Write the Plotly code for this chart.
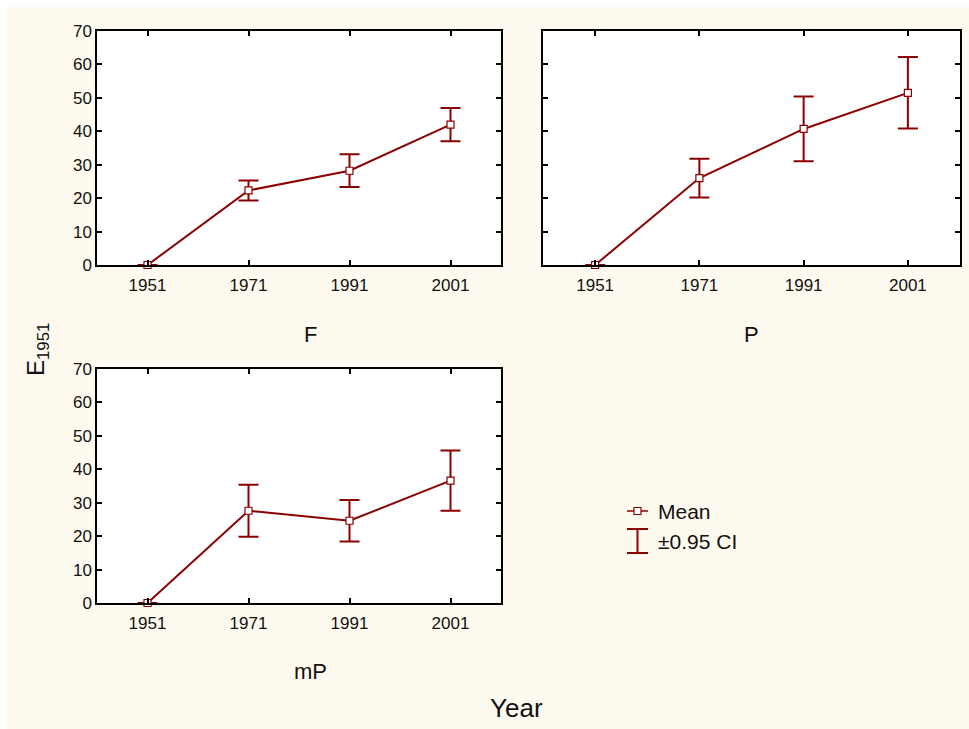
import plotly.graph_objects as go

# Mean E1951 by census year, with 0.95 confidence half-widths, for three groups
years = ["1951", "1971", "1991", "2001"]
f_mean = [0.0, 22.3, 28.2, 42.0]
f_ci = [0.0, 3.0, 4.9, 5.0]
p_mean = [0.0, 26.0, 40.7, 51.5]
p_ci = [0.0, 5.8, 9.7, 10.7]
mp_mean = [0.0, 27.6, 24.6, 36.6]
mp_ci = [0.0, 7.8, 6.2, 9.0]
y_ticks = [0, 10, 20, 30, 40, 50, 60, 70]

W, H = 969, 729
RED = "#8B0000"
BG = "#FEFAEF"
FONT = "Liberation Sans, Arial, sans-serif"


def px(x):
    return x / W


def py(y):
    return 1 - y / H


panels = [
    # (means, ci, x-axis id, y-axis id, pixel box left, right, top, bottom)
    (f_mean, f_ci, "x", "y", 97, 501, 31, 265),
    (p_mean, p_ci, "x2", "y2", 543, 960, 31, 265),
    (mp_mean, mp_ci, "x3", "y3", 97, 501, 369, 603),
]

fig = go.Figure()
layout_axes = {}
for i, (m, ci, xa, ya, l, r, t, b) in enumerate(panels):
    fig.add_trace(go.Scatter(
        x=years, y=m, xaxis=xa, yaxis=ya, mode="lines+markers",
        line=dict(color=RED, width=2),
        marker=dict(symbol="square", size=7, color="white",
                    line=dict(color=RED, width=1.2)),
        error_y=dict(type="data", array=ci, visible=True, color=RED,
                     thickness=2, width=10),
        showlegend=False, cliponaxis=False,
    ))
    suffix = "" if i == 0 else str(i + 1)
    common = dict(showline=True, linecolor="black", linewidth=1.5,
                  mirror="ticks", ticks="inside", ticklen=5, tickwidth=1.5,
                  tickcolor="black", showgrid=False, zeroline=False,
                  automargin=False,
                  tickfont=dict(family=FONT, size=17, color="#111"))
    layout_axes["xaxis" + suffix] = dict(
        common, type="category", range=[-0.5, 3.5],
        domain=[px(l), px(r)], anchor=ya, ticklabelstandoff=4)
    layout_axes["yaxis" + suffix] = dict(
        common, range=[0, 70], tickvals=y_ticks,
        domain=[py(b), py(t)], anchor=xa,
        showticklabels=(i != 1))

annotations = [
    dict(text="F", x=px(310), y=py(334), font=dict(size=22)),
    dict(text="P", x=px(751), y=py(334), font=dict(size=22)),
    dict(text="mP", x=px(310), y=py(671), font=dict(size=22)),
    dict(text="Year", x=px(516), y=py(708), font=dict(size=26)),
    dict(text="E<sub>1951</sub>", x=px(37), y=py(350), textangle=-90,
         font=dict(size=24)),
    dict(text="Mean", x=px(656), y=py(511), xanchor="left",
         font=dict(size=21)),
    dict(text="±0.95 CI", x=px(656), y=py(541), xanchor="left",
         font=dict(size=21)),
]
for a in annotations:
    a.update(xref="paper", yref="paper", showarrow=False)
    a["font"].update(family=FONT, color="#111")
    if "xanchor" not in a:
        a["xanchor"] = "center"
    a["yanchor"] = "middle"


def pline(x0, y0, x1, y1, w=2):
    return dict(type="line", xref="paper", yref="paper",
                x0=px(x0), y0=py(y0), x1=px(x1), y1=py(y1),
                line=dict(color=RED, width=w))


shapes = [
    dict(type="rect", xref="paper", yref="paper", layer="below",
         x0=px(7), y0=0, x1=1, y1=py(7), fillcolor=BG, line=dict(width=0)),
    # plot-area fills
    *[dict(type="rect", xref="paper", yref="paper", layer="below",
           x0=px(l), x1=px(r), y0=py(b), y1=py(t), fillcolor="white",
           line=dict(width=0)) for (_, _, _, _, l, r, t, b) in panels],
    # legend swatch: mean
    pline(627, 511, 648, 511, 1.5),
    dict(type="rect", xref="paper", yref="paper",
         x0=px(634), x1=px(641), y0=py(514.5), y1=py(507.5),
         fillcolor="white", line=dict(color=RED, width=1.2)),
    # legend swatch: confidence interval
    pline(637.5, 529, 637.5, 553),
    pline(627, 529, 648, 529),
    pline(627, 553, 648, 553),
]

fig.update_layout(
    template="none",
    width=W, height=H, margin=dict(l=0, r=0, t=0, b=0, pad=0),
    paper_bgcolor="white", plot_bgcolor="rgba(0,0,0,0)",
    font=dict(family=FONT, color="#111"),
    annotations=annotations, shapes=shapes, **layout_axes,
)

fig.write_html("out.html")
